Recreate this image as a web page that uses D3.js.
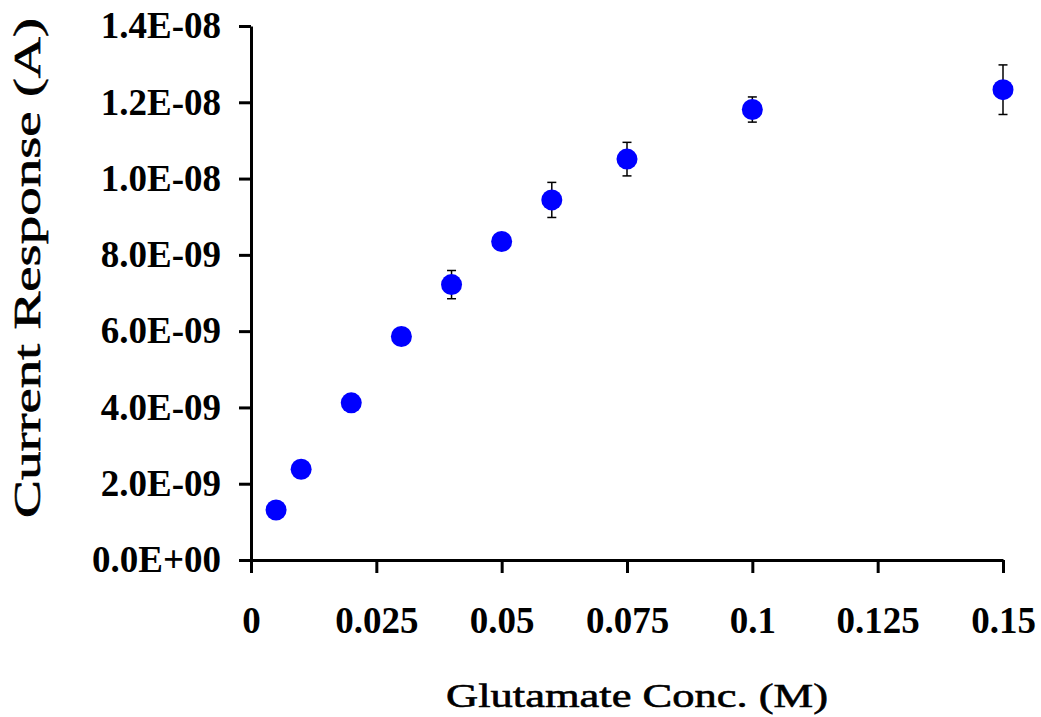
<!DOCTYPE html>
<html>
<head>
<meta charset="utf-8">
<script src="https://cdn.jsdelivr.net/npm/d3@7"></script>
<style>
  html, body { margin: 0; padding: 0; background: #fff; }
  svg { display: block; }
</style>
</head>
<body>
<svg id="chart" width="1041" height="717"></svg>
<script>
// Glutamate concentration (M) and mean current response (A) with std. deviation
const concentrations = [0.005, 0.01, 0.02, 0.03, 0.04, 0.05, 0.06, 0.075, 0.1, 0.15];
const currents = [1.31e-9, 2.38e-9, 4.12e-9, 5.86e-9, 7.22e-9, 8.35e-9, 9.44e-9, 10.51e-9, 11.81e-9, 12.33e-9];
const errors = [0.05e-9, 0.08e-9, 0.1e-9, 0.12e-9, 0.37e-9, 0.15e-9, 0.46e-9, 0.44e-9, 0.33e-9, 0.65e-9];
const xTicks = [0, 0.025, 0.05, 0.075, 0.1, 0.125, 0.15];
const xTickLabels = ["0", "0.025", "0.05", "0.075", "0.1", "0.125", "0.15"];
const yTicks = [0, 2e-9, 4e-9, 6e-9, 8e-9, 1e-8, 1.2e-8, 1.4e-8];
const yTickLabels = ["0.0E+00", "2.0E-09", "4.0E-09", "6.0E-09", "8.0E-09", "1.0E-08", "1.2E-08", "1.4E-08"];

const svg = d3.select("#chart");
const font = "'Liberation Serif', 'Times New Roman', serif";

const x = d3.scaleLinear().domain([0, 0.15]).range([251, 1003]);
const y = d3.scaleLinear().domain([0, 1.4e-8]).range([560, 26]);

// Y axis
const yAxis = svg.append("g")
  .attr("transform", `translate(${x(0)},0)`)
  .call(d3.axisLeft(y).tickValues(yTicks)
    .tickFormat((d, i) => yTickLabels[i]).tickSize(12).tickSizeOuter(0).tickPadding(18));
yAxis.select(".domain").attr("stroke", "#000").attr("stroke-width", 3);
yAxis.selectAll(".tick line").attr("stroke", "#000").attr("stroke-width", 3);
yAxis.selectAll(".tick text")
  .attr("font-family", font).attr("font-weight", "bold")
  .attr("font-size", 37).attr("fill", "#000");

// X axis
const xAxis = svg.append("g")
  .attr("transform", `translate(0,${y(0)})`)
  .call(d3.axisBottom(x).tickValues(xTicks)
    .tickFormat((d, i) => xTickLabels[i]).tickSize(13).tickSizeOuter(0).tickPadding(34));
xAxis.select(".domain").attr("stroke", "#000").attr("stroke-width", 3);
xAxis.selectAll(".tick line").attr("stroke", "#000").attr("stroke-width", 3);
xAxis.selectAll(".tick text")
  .attr("font-family", font).attr("font-weight", "bold")
  .attr("font-size", 37).attr("fill", "#000");

// Error bars
const eb = svg.append("g").attr("stroke", "#000").attr("stroke-width", 1.5);
concentrations.forEach((c, i) => {
  const cx = x(c), top = y(currents[i] + errors[i]), bot = y(currents[i] - errors[i]);
  eb.append("line").attr("x1", cx).attr("x2", cx).attr("y1", top).attr("y2", bot);
  eb.append("line").attr("x1", cx - 4.5).attr("x2", cx + 4.5).attr("y1", top).attr("y2", top);
  eb.append("line").attr("x1", cx - 4.5).attr("x2", cx + 4.5).attr("y1", bot).attr("y2", bot);
});

// Data points
svg.append("g").selectAll("circle")
  .data(concentrations)
  .join("circle")
  .attr("cx", d => x(d))
  .attr("cy", (d, i) => y(currents[i]))
  .attr("r", 10.5)
  .attr("fill", "#0000ff");

// Axis titles (wide set, glyphs stretched along the baseline)
svg.append("text")
  .attr("x", 637).attr("y", 707)
  .attr("text-anchor", "middle")
  .attr("font-family", font)
  .attr("font-size", 34).attr("fill", "#000")
  .attr("stroke", "#000").attr("stroke-width", 0.6)
  .attr("textLength", 382).attr("lengthAdjust", "spacingAndGlyphs")
  .text("Glutamate Conc. (M)");

svg.append("text")
  .attr("transform", "translate(40,268) rotate(-90)")
  .attr("text-anchor", "middle")
  .attr("font-family", font)
  .attr("font-size", 37).attr("fill", "#000")
  .attr("stroke", "#000").attr("stroke-width", 0.6)
  .attr("textLength", 500).attr("lengthAdjust", "spacingAndGlyphs")
  .text("Current Response (A)");
</script>
</body>
</html>
